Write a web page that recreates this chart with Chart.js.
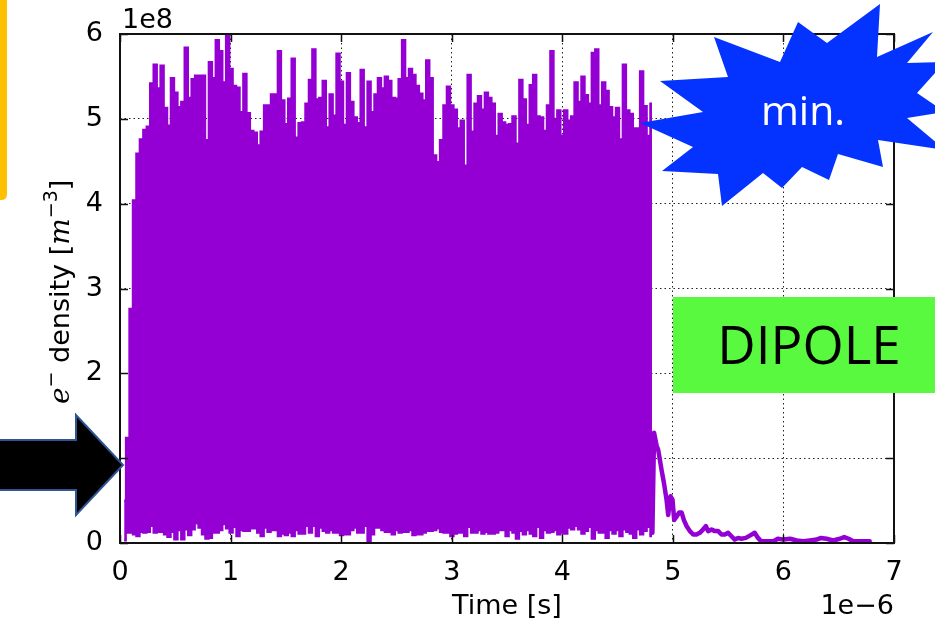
<!DOCTYPE html>
<html>
<head>
<meta charset="utf-8">
<script src="https://cdn.jsdelivr.net/npm/chart.js@4.4.1/dist/chart.umd.min.js"></script>
<style>
  html, body { margin: 0; padding: 0; background: #fff; }
  #wrap { width: 935px; height: 635px; }
</style>
</head>
<body>
<div id="wrap"><canvas id="density-chart" width="935" height="635"></canvas></div>
<script>
// Electron density (density in 1e8 m^-3, time in 1e-6 s)
const sampleStart = 0.022;   // first sample of the oscillating part
const sampleStep = 0.0312;   // spacing between samples

// upper edge of the oscillation
const peakDensity = [
  0.5, 1.24,
  2.76, 4.04, 4.59, 4.76, 4.87, 4.91, 5.42, 5.64, 5.36, 5.63,
  5.13, 4.92, 5.48, 5.31, 5.14, 5.2, 5.84, 5.25, 5.47, 5.51,
  5.51, 5.51, 4.75, 5.67, 5.48, 5.93, 5.8, 5.43, 6.0, 5.59,
  5.39, 5.37, 5.08, 5.53, 5.07, 4.86, 4.84, 4.69, 4.85, 5.16,
  5.16, 5.29, 5.29, 5.8, 5.22, 4.94, 5.24, 5.71, 4.78, 4.95,
  4.96,
  5.18, 5.46, 5.82, 5.23, 5.25, 5.45, 4.9, 5.29, 5.04, 5.77,
  5.44, 4.93, 5.54, 5.2, 5.02, 4.95, 5.58, 4.9, 5.44, 5.08,
  5.29, 5.48, 5.36, 5.5, 5.45, 5.25, 5.24, 5.47, 5.93, 5.48,
  5.59, 5.52, 5.39, 5.3, 5.22, 5.69, 5.48, 4.57, 4.49, 4.75,
  5.16, 5.38, 5.16, 5.11, 4.89, 4.98, 4.45, 5.52, 4.85, 5.18,
  5.27, 5.11, 5.31, 5.25, 5.18, 4.8, 5.06, 4.96, 4.93, 4.94,
  5.03, 4.71, 5.46, 5.23, 4.93, 5.4, 5.52, 5.03, 5.02, 4.86,
  5.16, 5.8, 5.0, 5.1, 4.8, 5.1, 4.98, 5.03, 5.43, 5.2,
  5.5, 5.28, 5.18, 5.78, 5.82, 5.16, 5.43, 5.33, 5.14, 5.02,
  5.13, 4.76, 5.64, 5.1, 5.06, 4.89, 4.89, 5.56, 5.15, 4.8, 5.18
];

// lower edge of the oscillation
const troughDensity = [
  0.03, 0.12, 0.12, 0.1, 0.08, 0.13, 0.12, 0.13, 0.2, 0.12,
  0.13, 0.13, 0.1, 0.07, 0.13, 0.04, 0.15, 0.04, 0.16, 0.09,
  0.16, 0.23, 0.18, 0.1, 0.05, 0.06, 0.12, 0.12, 0.15, 0.22,
  0.17, 0.12, 0.19, 0.08, 0.15, 0.14, 0.14, 0.17, 0.17, 0.12,
  0.08, 0.18, 0.13, 0.15, 0.15, 0.08, 0.11, 0.09, 0.12, 0.08,
  0.15, 0.11, 0.11, 0.2, 0.12, 0.2, 0.08, 0.18, 0.14, 0.12,
  0.15, 0.12, 0.12, 0.09, 0.1, 0.1, 0.15, 0.18, 0.12, 0.12,
  0.2, 0.02, 0.1, 0.18, 0.18, 0.15, 0.13, 0.13, 0.1, 0.15,
  0.12, 0.13, 0.13, 0.15, 0.09, 0.1, 0.1, 0.12, 0.14, 0.14,
  0.15, 0.17, 0.13, 0.12, 0.12, 0.08, 0.11, 0.12, 0.12, 0.08,
  0.19, 0.12, 0.12, 0.15, 0.11, 0.13, 0.11, 0.11, 0.12, 0.15,
  0.15, 0.08, 0.15, 0.12, 0.05, 0.14, 0.1, 0.15, 0.11, 0.08,
  0.19, 0.06, 0.15, 0.12, 0.13, 0.15, 0.1, 0.12, 0.11, 0.18,
  0.16, 0.2, 0.16, 0.11, 0.14, 0.19, 0.05, 0.15, 0.12, 0.12,
  0.06, 0.15, 0.11, 0.15, 0.08, 0.16, 0.13, 0.11, 0.06, 0.16,
  0.1, 0.14, 0.19, 0.08
];

// decay after the source stops
const decayTime = [
  4.815, 4.83, 4.853, 4.867, 4.898, 4.919, 4.943, 4.958, 4.979, 4.997,
  5.012, 5.033, 5.057, 5.079, 5.1, 5.124, 5.154, 5.184, 5.214, 5.244,
  5.274, 5.298, 5.319, 5.35, 5.38, 5.41, 5.44, 5.47, 5.5, 5.53,
  5.56, 5.59, 5.62, 5.66, 5.7, 5.74, 5.77, 5.8, 5.85, 5.91,
  5.95, 6.0, 6.06, 6.12, 6.18, 6.24, 6.3, 6.34, 6.39, 6.45,
  6.51, 6.55, 6.59, 6.63, 6.69, 6.78
];
const decayDensity = [
  0.12, 1.3, 1.15, 1.1, 0.86, 0.71, 0.51, 0.33, 0.55, 0.51,
  0.27, 0.31, 0.36, 0.36, 0.27, 0.2, 0.14, 0.1, 0.1, 0.12,
  0.16, 0.2, 0.14, 0.16, 0.14, 0.14, 0.1, 0.1, 0.12, 0.08,
  0.04, 0.06, 0.05, 0.06, 0.09, 0.12, 0.06, 0.02, 0.02, 0.02,
  0.05, 0.04, 0.05, 0.03, 0.02, 0.03, 0.04, 0.06, 0.05, 0.03,
  0.05, 0.07, 0.05, 0.02, 0.02, 0.02
];

const xTicks = [0, 1, 2, 3, 4, 5, 6, 7];
const yTicks = [0, 1, 2, 3, 4, 5, 6];

const PURPLE = '#9400d3';
const TICK_FONT = { family: '"DejaVu Sans"', size: 27 };

const sampleTime = peakDensity.map((_, i) => sampleStart + (i + 0.5) * sampleStep);
const toPoints = (xs, ys) => xs.map((x, i) => ({ x: x, y: ys[i] }));

// frame, inward ticks and the offset labels, like matplotlib classic
const framePlugin = {
  id: 'frame',
  afterDatasetsDraw(chart) {
    const { ctx, chartArea: a, scales } = chart;
    ctx.save();
    ctx.strokeStyle = '#111';
    ctx.lineWidth = 1.5;
    xTicks.forEach(v => {
      const px = Math.round(scales.x.getPixelForValue(v)) + 0.5;
      ctx.beginPath();
      ctx.moveTo(px, a.bottom); ctx.lineTo(px, a.bottom - 8);
      ctx.moveTo(px, a.top); ctx.lineTo(px, a.top + 8);
      ctx.stroke();
    });
    yTicks.forEach(v => {
      const py = Math.round(scales.y.getPixelForValue(v)) + 0.5;
      ctx.beginPath();
      ctx.moveTo(a.left, py); ctx.lineTo(a.left + 8, py);
      ctx.moveTo(a.right, py); ctx.lineTo(a.right - 8, py);
      ctx.stroke();
    });
    ctx.lineWidth = 2;
    ctx.strokeRect(a.left, a.top, a.right - a.left, a.bottom - a.top);

    ctx.fillStyle = '#000';
    ctx.font = '27px "DejaVu Sans"';
    ctx.textBaseline = 'alphabetic';
    ctx.textAlign = 'left';
    ctx.fillText('1e8', a.left + 2, 28);
    ctx.textAlign = 'right';
    ctx.fillText('1e\u22126', a.right, 614);
    ctx.textAlign = 'center';
    ctx.fillText('Time [s]', 507, 614);

    // y title: e^- density [m^-3]
    const parts = [
      { t: 'e', f: 'italic 28px "DejaVu Serif"', dy: 0 },
      { t: '\u2212', f: '19px "DejaVu Sans"', dy: -12 },
      { t: ' density [', f: '27px "DejaVu Sans"', dy: 0 },
      { t: 'm', f: 'italic 28px "DejaVu Serif"', dy: 0 },
      { t: '\u22123', f: '19px "DejaVu Sans"', dy: -12 },
      { t: ']', f: '27px "DejaVu Sans"', dy: 0 }
    ];
    ctx.translate(69, 404);
    ctx.rotate(-Math.PI / 2);
    ctx.textAlign = 'left';
    let x = 0;
    parts.forEach(p => {
      ctx.font = p.f;
      ctx.fillText(p.t, x, p.dy);
      x += ctx.measureText(p.t).width;
    });
    ctx.restore();
  }
};

// slide decorations on top of the figure
const overlayPlugin = {
  id: 'overlay',
  afterDraw(chart) {
    const ctx = chart.ctx;
    ctx.save();

    // yellow bar at the left edge
    ctx.fillStyle = '#ffc000';
    ctx.beginPath();
    ctx.moveTo(-10, 0); ctx.lineTo(7, 0); ctx.lineTo(7, 194);
    ctx.quadraticCurveTo(7, 200, 1, 200); ctx.lineTo(-10, 200);
    ctx.closePath(); ctx.fill();

    // black arrow
    ctx.fillStyle = '#000';
    ctx.strokeStyle = '#2f5597';
    ctx.lineWidth = 2;
    ctx.beginPath();
    ctx.moveTo(-5, 440); ctx.lineTo(76, 440); ctx.lineTo(76, 415);
    ctx.lineTo(123, 465); ctx.lineTo(76, 515); ctx.lineTo(76, 490);
    ctx.lineTo(-5, 490); ctx.closePath();
    ctx.fill(); ctx.stroke();

    // blue burst
    const star = [
      [640, 123], [703, 112], [660, 81], [728, 77], [714, 37], [780, 62],
      [798, 22], [827, 43], [880, 4], [877, 57], [933, 32], [907, 63],
      [945, 62], [917, 93], [945, 112], [907, 118], [945, 150], [878, 140],
      [883, 167], [838, 154], [829, 180], [802, 167], [782, 188], [763, 173],
      [722, 206], [718, 174], [662, 171], [693, 147]
    ];
    ctx.fillStyle = '#0433ff';
    ctx.beginPath();
    star.forEach((p, i) => i ? ctx.lineTo(p[0], p[1]) : ctx.moveTo(p[0], p[1]));
    ctx.closePath(); ctx.fill();
    ctx.fillStyle = '#fff';
    ctx.font = '41px "Open Sans"';
    ctx.textAlign = 'center';
    ctx.textBaseline = 'alphabetic';
    ctx.fillText('min.', 803, 125);

    // green label box
    ctx.fillStyle = '#58f93e';
    ctx.fillRect(673, 297, 270, 96);
    ctx.fillStyle = '#000';
    ctx.font = '53px "Open Sans"';
    ctx.fillText('DIPOLE', 809, 364);
    ctx.restore();
  }
};

new Chart(document.getElementById('density-chart'), {
  type: 'line',
  data: {
    datasets: [
      {
        label: 'peaks',
        data: toPoints(sampleTime, peakDensity),
        stepped: 'middle',
        borderColor: PURPLE,
        backgroundColor: PURPLE,
        borderWidth: 2,
        pointRadius: 0,
        fill: '+1'
      },
      {
        label: 'troughs',
        data: toPoints(sampleTime, troughDensity),
        stepped: 'middle',
        borderColor: PURPLE,
        borderWidth: 2,
        pointRadius: 0,
        fill: false
      },
      {
        label: 'decay',
        data: toPoints(decayTime, decayDensity),
        borderColor: PURPLE,
        borderWidth: 4.5,
        pointRadius: 0,
        borderJoinStyle: 'round',
        borderCapStyle: 'round',
        fill: false
      }
    ]
  },
  options: {
    responsive: false,
    animation: false,
    devicePixelRatio: 1,
    layout: { padding: { top: 34, right: 41, left: 0, bottom: 0 } },
    plugins: { legend: { display: false }, tooltip: { enabled: false } },
    scales: {
      x: {
        type: 'linear',
        min: 0, max: 7,
        afterBuildTicks: s => { s.ticks = xTicks.map(v => ({ value: v })); },
        afterFit: s => { s.height = 92; },
        ticks: { font: TICK_FONT, color: '#000', padding: 14, maxRotation: 0 },
        grid: { color: '#222', lineWidth: 1, drawTicks: false },
        border: { display: false, dash: [1.5, 3] }
      },
      y: {
        min: 0, max: 6,
        afterBuildTicks: s => { s.ticks = yTicks.map(v => ({ value: v })); },
        afterFit: s => { s.width = 120; },
        ticks: { font: TICK_FONT, color: '#000', padding: 17 },
        grid: { color: '#222', lineWidth: 1, drawTicks: false },
        border: { display: false, dash: [1.5, 3] }
      }
    }
  },
  plugins: [framePlugin, overlayPlugin]
});
</script>
</body>
</html>
